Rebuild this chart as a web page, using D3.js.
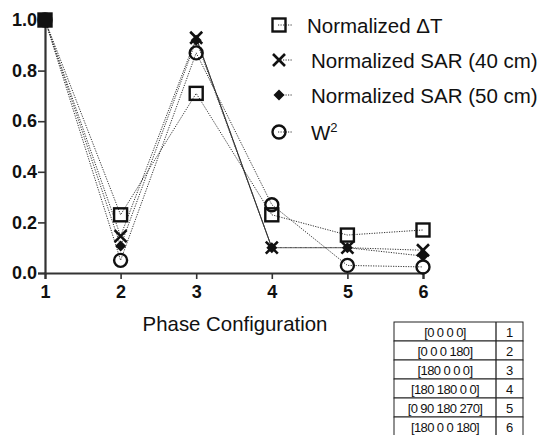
<!DOCTYPE html>
<html>
<head>
<meta charset="utf-8">
<script src="https://cdn.jsdelivr.net/npm/d3@7"></script>
<style>
  body { margin: 0; background: white; }
  text { font-family: "Liberation Sans", Arial, sans-serif; }
</style>
</head>
<body>
<div id="container"></div>
<script>
const configs = [1, 2, 3, 4, 5, 6];
const deltaT = [1.0, 0.23, 0.71, 0.23, 0.15, 0.17];
const sar40 = [1.0, 0.146, 0.93, 0.1, 0.1, 0.09];
const sar50 = [1.0, 0.107, 0.92, 0.1, 0.1, 0.067];
const w2 = [1.0, 0.05, 0.87, 0.27, 0.03, 0.024];
const yTicks = [0, 0.2, 0.4, 0.6, 0.8, 1.0];
const phaseRows = [
  ["[0 0 0 0]", "1"],
  ["[0 0 0 180]", "2"],
  ["[180 0 0 0]", "3"],
  ["[180 180 0 0]", "4"],
  ["[0 90 180 270]", "5"],
  ["[180 0 0 180]", "6"],
];

const w = 538;
const h = 435;

const svg = d3
  .select("#container")
  .append("svg")
  .attr("width", w)
  .attr("height", h);

const xScale = d3.scaleLinear().domain([1, 6]).range([45, 423]);
const yScale = d3.scaleLinear().domain([0, 1]).range([273, 20]);

// axes
const xAxis = d3.axisBottom(xScale).tickValues(configs).tickFormat(d3.format("d")).tickSizeOuter(0).tickSize(6).tickPadding(6);
const yAxis = d3.axisLeft(yScale).tickValues(yTicks).tickFormat(d3.format(".1f")).tickSizeOuter(0).tickSize(7).tickPadding(1);

const gx = svg.append("g").attr("transform", `translate(0, ${yScale(0)})`).call(xAxis);
const gy = svg.append("g").attr("transform", `translate(${xScale(1)}, 0)`).call(yAxis);

[gx, gy].forEach((g) => {
  g.select(".domain").attr("stroke", "#333").attr("stroke-width", 2.2);
  g.selectAll(".tick line").attr("stroke", "#333").attr("stroke-width", 1.6);
  g.selectAll(".tick text")
    .attr("fill", "#111")
    .attr("font-size", 18)
    .attr("font-weight", "bold")
    .attr("font-family", "Liberation Sans, Arial, sans-serif");
});

svg
  .append("text")
  .attr("x", 235)
  .attr("y", 331)
  .attr("text-anchor", "middle")
  .attr("font-size", 20.4)
  .attr("fill", "#111")
  .text("Phase Configuration");

// series
const series = [
  { name: "Normalized ΔT", values: deltaT, marker: "square" },
  { name: "Normalized SAR (40 cm)", values: sar40, marker: "cross" },
  { name: "Normalized SAR (50 cm)", values: sar50, marker: "diamond" },
  { name: "W2", values: w2, marker: "circle" },
];

const line = d3
  .line()
  .x((d, i) => xScale(configs[i]))
  .y((d) => yScale(d));

const lineLayer = svg.append("g");
series.forEach((s) => {
  lineLayer
    .append("path")
    .attr("d", line(s.values))
    .attr("fill", "none")
    .attr("stroke", "#333")
    .attr("stroke-width", 1)
    .attr("stroke-dasharray", "1.2,1.3");
});

// one solid segment (SAR 40 cm, 3 -> 4)
lineLayer
  .append("line")
  .attr("x1", xScale(configs[2]))
  .attr("y1", yScale(sar40[2]))
  .attr("x2", xScale(configs[3]))
  .attr("y2", yScale(sar40[3]))
  .attr("stroke", "#333")
  .attr("stroke-width", 1);

function drawMarker(g, type, x, y) {
  if (type === "square") {
    g.append("rect")
      .attr("x", x - 6.5)
      .attr("y", y - 6.5)
      .attr("width", 13)
      .attr("height", 13)
      .attr("fill", "none")
      .attr("stroke", "#111")
      .attr("stroke-width", 2.4);
  } else if (type === "circle") {
    g.append("circle")
      .attr("cx", x)
      .attr("cy", y)
      .attr("r", 6.5)
      .attr("fill", "none")
      .attr("stroke", "#111")
      .attr("stroke-width", 2.4);
  } else if (type === "cross") {
    const s = 6;
    g.append("path")
      .attr("d", `M${x - s},${y - s}L${x + s},${y + s}M${x - s},${y + s}L${x + s},${y - s}`)
      .attr("stroke", "#111")
      .attr("stroke-width", 2.6);
  } else if (type === "diamond") {
    const s = 5.5;
    g.append("path")
      .attr("d", `M${x},${y - s}L${x + s},${y}L${x},${y + s}L${x - s},${y}Z`)
      .attr("fill", "#111");
  }
}

const markerLayer = svg.append("g");
series.forEach((s) => {
  s.values.forEach((v, i) => {
    drawMarker(markerLayer, s.marker, xScale(configs[i]), yScale(v));
  });
});
// first point looks filled where all markers overlap
markerLayer
  .append("rect")
  .attr("x", xScale(configs[0]) - 7)
  .attr("y", yScale(deltaT[0]) - 7)
  .attr("width", 14)
  .attr("height", 14)
  .attr("fill", "#111");

// legend
const legendY = [25, 60, 95, 132];
const legendTextX = [307, 311, 311, 311];
const legend = svg.append("g");
series.forEach((s, i) => {
  const y = legendY[i];
  legend
    .append("line")
    .attr("x1", 278)
    .attr("x2", 293)
    .attr("y1", y)
    .attr("y2", y)
    .attr("stroke", "#333")
    .attr("stroke-width", 1)
    .attr("stroke-dasharray", "1.2,1.3");
  drawMarker(legend, s.marker, 279, y);
  const t = legend
    .append("text")
    .attr("x", legendTextX[i])
    .attr("y", y + 7.5)
    .attr("font-size", 20.5)
    .attr("fill", "#111");
  if (s.marker === "circle") {
    t.text("W");
    t.append("tspan").attr("font-size", 13).attr("dy", -8).text("2");
  } else {
    t.text(s.name);
  }
});

// table
const tx0 = 394, tx1 = 496, tx2 = 523, ty0 = 322, rowH = 19;
const table = svg.append("g");
phaseRows.forEach((r, i) => {
  const y = ty0 + i * rowH;
  table
    .append("rect")
    .attr("x", tx0)
    .attr("y", y)
    .attr("width", tx2 - tx0)
    .attr("height", rowH)
    .attr("fill", "white")
    .attr("stroke", "#222")
    .attr("stroke-width", 1);
  table
    .append("line")
    .attr("x1", tx1)
    .attr("x2", tx1)
    .attr("y1", y)
    .attr("y2", y + rowH)
    .attr("stroke", "#222")
    .attr("stroke-width", 1.3);
  table
    .append("text")
    .attr("x", (tx0 + tx1) / 2)
    .attr("y", y + 14.5)
    .attr("text-anchor", "middle")
    .attr("font-size", 13)
    .attr("letter-spacing", -0.6)
    .attr("fill", "#111")
    .text(r[0]);
  table
    .append("text")
    .attr("x", (tx1 + tx2) / 2)
    .attr("y", y + 14.5)
    .attr("text-anchor", "middle")
    .attr("font-size", 13)
    .attr("fill", "#111")
    .text(r[1]);
});
</script>
</body>
</html>
